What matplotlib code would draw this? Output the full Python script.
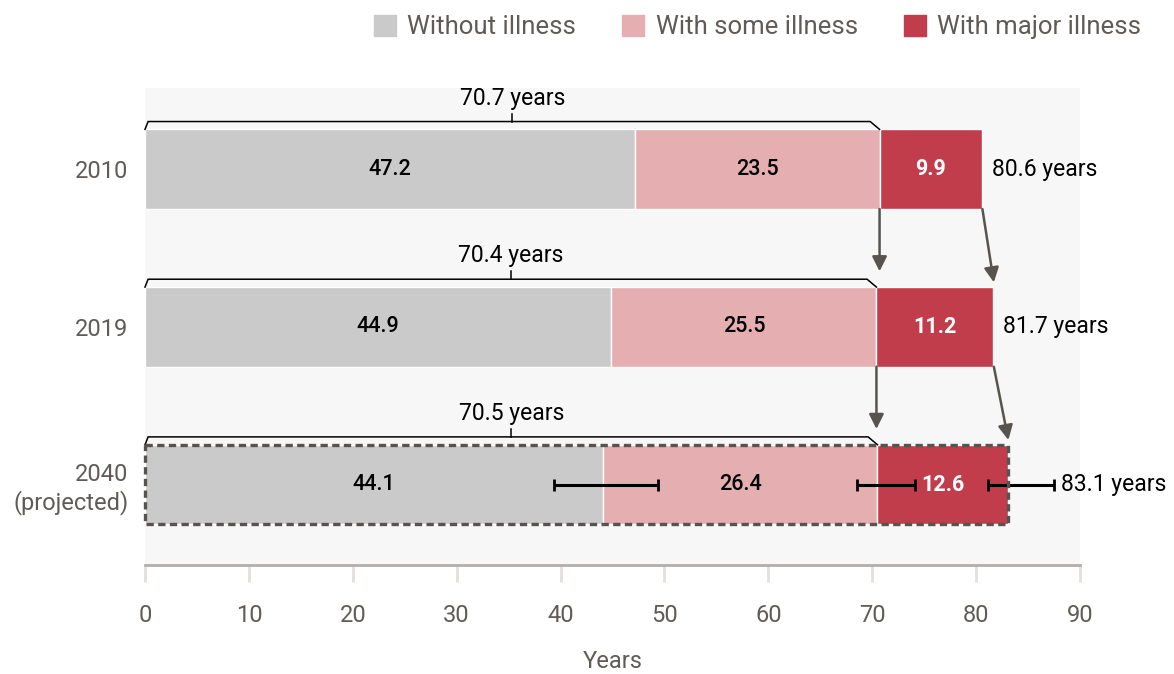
import numpy as np
import matplotlib.pyplot as plt
from matplotlib.patches import Patch, Rectangle

plt.rcParams['font.family'] = ['Roboto', 'DejaVu Sans']

# data
years = ['2010', '2019', '2040\n(projected)']
without_illness = [47.2, 44.9, 44.1]
some_illness = [23.5, 25.5, 26.4]
major_illness = [9.9, 11.2, 12.6]
healthy_totals = [70.7, 70.4, 70.5]
life_totals = [80.6, 81.7, 83.1]
# projection uncertainty (2040 only), at each segment boundary
err_pos = [44.1, 70.5, 83.1]
err_low = [4.7, 2.0, 2.0]
err_high = [5.3, 3.6, 4.4]

c_without = '#cacaca'
c_some = '#e5aeb1'
c_major = '#c23d4b'
grey_txt = '#605b56'
arrow_c = '#57534f'

fig = plt.figure(figsize=(11.74, 6.74), dpi=100)
ax = fig.add_axes([0.1235, 0.1617, 0.7965, 0.7077])
ax.set_facecolor('#f7f7f7')

y = np.arange(len(years))
h = 0.505
w = np.array(without_illness)
s = np.array(some_illness)
m = np.array(major_illness)

ax.barh(y, w, height=h, color=c_without, edgecolor='white', linewidth=1)
ax.barh(y, s, left=w, height=h, color=c_some, edgecolor='white', linewidth=1)
ax.barh(y, m, left=w + s, height=h, color=c_major, edgecolor='white', linewidth=1)

for i in range(len(years)):
    ax.text(w[i] / 2, y[i], f'{w[i]:.1f}', ha='center', va='center',
            fontsize=15.5, fontweight='medium', color='black')
    ax.text(w[i] + s[i] / 2, y[i], f'{s[i]:.1f}', ha='center', va='center',
            fontsize=15.5, fontweight='medium', color='black')
    ax.text(w[i] + s[i] + m[i] / 2, y[i], f'{m[i]:.1f}', ha='center', va='center',
            fontsize=15.5, fontweight='bold', color='white')

    # bracket over healthy years
    top = y[i] - h / 2
    yb = top - 0.05
    ht = healthy_totals[i]
    ax.plot([0, 0.3, ht - 0.9, ht], [top, yb, yb, top], color='black', lw=1.1,
            solid_joinstyle='miter', clip_on=False)
    ax.plot([ht / 2, ht / 2], [yb, yb - 0.05], color='black', lw=1.1)
    ax.text(ht / 2, yb - 0.075, f'{ht} years', ha='center', va='bottom',
            fontsize=16.5, color='black')

# totals
for i in range(2):
    ax.text(life_totals[i] + 0.9, y[i], f'{life_totals[i]} years', ha='left',
            va='center', fontsize=16.5, color='black')
ax.text(err_pos[2] + err_high[2] + 0.7, y[2], f'{life_totals[2]} years',
        ha='left', va='center', fontsize=16.5, color='black')

# error bars on projection
ax.errorbar(err_pos, [y[2]] * 3, xerr=[err_low, err_high], fmt='none',
            ecolor='black', elinewidth=2.2, capsize=4, capthick=2)

# dashed outline for projected bar
ax.add_patch(Rectangle((0, y[2] - h / 2), life_totals[2], h, fill=False,
                       edgecolor=arrow_c, lw=2.4, linestyle=(0, (2.2, 1.3)),
                       zorder=5, clip_on=False))

# arrows between years
for i in range(2):
    bot = y[i] + h / 2
    ax.annotate('', xy=(healthy_totals[i], y[i + 1] - h / 2 - 0.1),
                xytext=(healthy_totals[i], bot),
                arrowprops=dict(arrowstyle='-|>', color=arrow_c, lw=1.8,
                                mutation_scale=22, shrinkA=0, shrinkB=0))
    ax.annotate('', xy=(life_totals[i + 1], y[i + 1] - h / 2 - 0.03),
                xytext=(life_totals[i], bot),
                arrowprops=dict(arrowstyle='-|>', color=arrow_c, lw=1.8,
                                mutation_scale=22, shrinkA=0, shrinkB=0))

ax.set_xlim(0, 90)
ax.set_ylim(2.51, -0.515)
ax.set_xticks(np.arange(0, 91, 10))
ax.set_yticks(y)
ax.set_yticklabels(years)
ax.tick_params(axis='x', length=12, width=2, color='#e3e0db', labelsize=17,
               labelcolor=grey_txt, pad=16)
ax.tick_params(axis='y', length=0, labelsize=17, labelcolor=grey_txt, pad=12)
for side in ['top', 'right', 'left']:
    ax.spines[side].set_visible(False)
ax.spines['bottom'].set_color('#b3aea9')
ax.spines['bottom'].set_linewidth(2)
fig.text(613 / 1174, 1 - 661 / 674, 'Years', ha='center', va='center',
         fontsize=17, color=grey_txt)

handles = [Patch(color=c_without), Patch(color=c_some), Patch(color=c_major)]
fig.legend(handles, ['Without illness', 'With some illness', 'With major illness'],
           loc='upper right', bbox_to_anchor=(0.992, 1.012), ncol=3, frameon=False,
           labelcolor=grey_txt, handlelength=0.85, handleheight=0.85,
           handletextpad=0.45, columnspacing=1.8, prop={'size': 18.5})

fig.savefig('out.png', dpi=100)
